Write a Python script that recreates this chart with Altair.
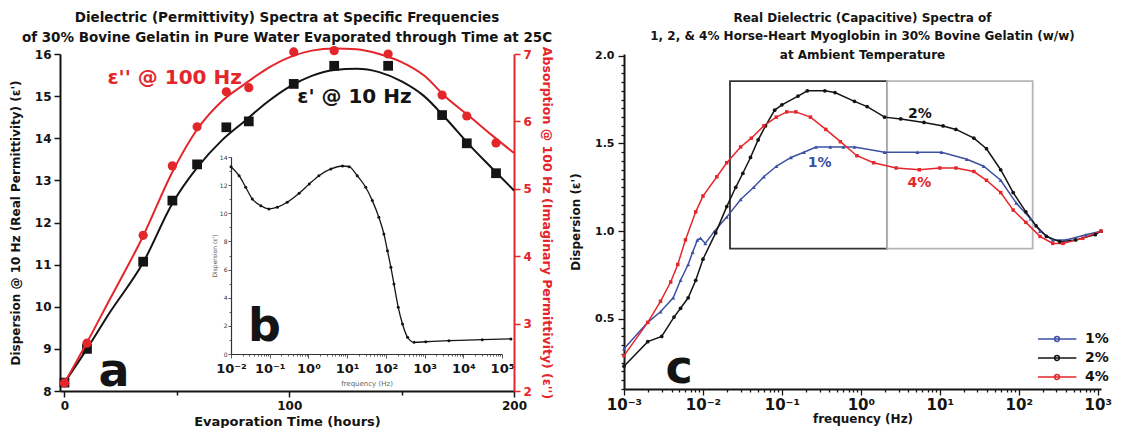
import altair as alt
import pandas as pd

FONT = "DejaVu Sans"
RED = "#e3262b"
BLUE = "#3d50a2"
BLACK = "#141414"

# ---------------- Panel a : values at specific frequencies vs evaporation time ----------------
hours = [0, 10, 35, 48, 59, 72, 82, 102, 120, 144, 168, 179, 192]
eps_real_10hz = [8.2, 9.0, 11.07, 12.52, 13.38, 14.26, 14.4, 15.29, 15.72, 15.72, 14.55, 13.88, 13.17]
eps_imag_100hz = [2.12, 2.71, 4.31, 5.34, 5.92, 6.44, 6.5, 7.03, 7.05, 7.0, 6.39, 6.08, 5.68]

# fitted curves as drawn in the figure
fit_hours = [0, 10, 20, 35, 48, 59, 70, 80, 90, 100, 110, 120, 130, 140, 150, 160, 170, 180, 190, 200]
fit_real = [8.2, 9.0, 9.85, 11.05, 12.45, 13.3, 13.95, 14.4, 14.85, 15.22, 15.48, 15.62, 15.65, 15.57,
            15.35, 15.0, 14.45, 13.85, 13.3, 12.76]
fit_imag = [2.12, 2.72, 3.35, 4.3, 5.25, 5.88, 6.3, 6.55, 6.78, 6.95, 7.05, 7.08, 7.07, 7.0,
            6.88, 6.68, 6.35, 6.08, 5.8, 5.53]

# inset b : dispersion spectrum
inset_freq = [0.01, 0.0162, 0.024, 0.0355, 0.0589, 0.0955, 0.158, 0.282, 0.575, 1.05, 1.86, 3.8, 7.59,
              11.2, 18.2, 30.2, 44.7, 66, 89, 110, 135, 162, 209, 269, 363, 537, 1072, 4266, 30900, 170000]
inset_eps = [13.31, 12.67, 11.85, 11.02, 10.54, 10.31, 10.43, 10.78, 11.42, 12.08, 12.67, 13.15, 13.36,
             13.31, 12.67, 11.85, 10.9, 9.71, 8.53, 7.34, 6.16, 4.97, 3.32, 2.13, 1.19, 0.83, 0.87, 0.95,
             1.02, 1.07]

# ---------------- Panel c : myoglobin spectra ----------------
freq_2pct = [0.001, 0.002, 0.003, 0.0043, 0.0052, 0.0065, 0.0081, 0.010, 0.0145, 0.020, 0.026, 0.032,
             0.040, 0.050, 0.062, 0.081, 0.10, 0.16, 0.21, 0.35, 0.47, 0.83, 1.2, 2.0, 3.2, 6.3, 11, 16,
             27, 39, 59, 85, 123, 166, 224, 331, 525, 933, 1100]
disp_2pct = [0.23, 0.37, 0.40, 0.51, 0.56, 0.62, 0.72, 0.84, 0.99, 1.14, 1.25, 1.33, 1.42, 1.52, 1.60,
             1.69, 1.72, 1.77, 1.80, 1.80, 1.79, 1.74, 1.71, 1.65, 1.64, 1.62, 1.60, 1.58, 1.53, 1.47,
             1.35, 1.22, 1.11, 1.03, 0.97, 0.94, 0.95, 0.98, 1.0]

freq_1pct = [0.001, 0.002, 0.0029, 0.0042, 0.0052, 0.0065, 0.0074, 0.0085, 0.0093, 0.0107, 0.014, 0.020,
             0.030, 0.044, 0.059, 0.085, 0.13, 0.19, 0.27, 0.41, 0.60, 0.83, 2.0, 5.2, 10.5, 22, 36, 59,
             93, 141, 186, 269, 398, 708, 1100]
disp_1pct = [0.33, 0.48, 0.54, 0.62, 0.72, 0.81, 0.88, 0.95, 0.96, 0.93, 1.0, 1.08, 1.18, 1.25, 1.31,
             1.37, 1.42, 1.45, 1.48, 1.48, 1.48, 1.48, 1.45, 1.45, 1.45, 1.41, 1.37, 1.29, 1.16, 1.07,
             1.0, 0.95, 0.95, 0.98, 1.0]

freq_4pct = [0.001, 0.002, 0.0029, 0.0039, 0.0048, 0.006, 0.0081, 0.010, 0.015, 0.020, 0.030, 0.041,
             0.059, 0.085, 0.115, 0.15, 0.23, 0.36, 0.55, 0.89, 1.45, 2.8, 5.5, 10, 16, 27, 39, 59, 85,
             123, 186, 269, 363, 646, 1100]
disp_4pct = [0.29, 0.48, 0.60, 0.71, 0.81, 0.95, 1.11, 1.20, 1.31, 1.39, 1.48, 1.53, 1.60, 1.65, 1.68,
             1.68, 1.65, 1.58, 1.51, 1.43, 1.39, 1.36, 1.35, 1.36, 1.36, 1.34, 1.29, 1.22, 1.12, 1.05,
             0.97, 0.93, 0.93, 0.96, 1.0]

series_names = ["1%", "2%", "4%"]

# zoom boxes drawn on panel c
box_f0 = [0.022, 2.15]
box_f1 = [2.15, 150]
box_v0 = [0.9, 0.9]
box_v1 = [1.855, 1.855]

# --------------------------------------------------------------------------------------------
df_pts = pd.DataFrame({"hours": hours, "real": eps_real_10hz, "imag": eps_imag_100hz})
df_fit = pd.DataFrame({"hours": fit_hours, "real": fit_real, "imag": fit_imag})
df_inset = pd.DataFrame({"freq": inset_freq, "eps": inset_eps})

rows = []
for name, fs, vs in [("1%", freq_1pct, disp_1pct), ("2%", freq_2pct, disp_2pct), ("4%", freq_4pct, disp_4pct)]:
    for f, v in zip(fs, vs):
        rows.append({"freq": f, "value": v, "series": name})
df_c = pd.DataFrame(rows)
df_boxes = pd.DataFrame({"freq": box_f0, "freq2": box_f1, "value": box_v0, "value2": box_v1,
                         "kind": ["dark", "light"]})


def tcond(test, major, minor):
    return {"condition": {"test": test, "value": major}, "value": minor}


DECADE = ("abs(log(datum.value)/LN10 - round(log(datum.value)/LN10)) < 1e-6 ? "
          "'10' + ['⁻³','⁻²','⁻¹','⁰','¹','²','³','⁴','⁵'][round(log(datum.value)/LN10) + 3] : ''")
IS_DEC = "abs(log(datum.value)/LN10 - round(log(datum.value)/LN10)) < 1e-6"

base_axis = dict(grid=False, labelFontWeight="bold", titleFontWeight="bold", labelFont=FONT, titleFont=FONT)

WA, HA = 454, 337
WC, HC = 477, 335

# ---- panel a scales/axes
sc_hours = alt.Scale(domain=[-2, 200], nice=False, zero=False)
ax_hours = alt.Axis(orient="bottom", title="Evaporation Time (hours)", values=[0, 50, 100, 150, 200],
                    labelExpr="datum.value % 100 == 0 ? datum.label : ''", labelFlush=False,
                    tickSize=tcond("datum.value % 100 == 0", 6, 4), domainWidth=2, tickWidth=1.5,
                    domainColor=BLACK, tickColor=BLACK, labelColor=BLACK, titleColor=BLACK,
                    labelFontSize=12, titleFontSize=13, labelPadding=3, titlePadding=4, **base_axis)
sc_real = alt.Scale(domain=[8, 16], nice=False, zero=False)
ax_real = alt.Axis(orient="left", title="Dispersion @ 10 Hz (Real Permittivity) (ε')",
                   values=[8 + 0.5 * i for i in range(17)], format="d",
                   labelExpr="datum.value % 1 == 0 ? datum.label : ''",
                   tickSize=tcond("datum.value % 1 == 0", 6, 3), domainWidth=2, tickWidth=1.5,
                   domainColor=BLACK, tickColor=BLACK, labelColor=BLACK, titleColor=BLACK,
                   labelFontSize=12, titleFontSize=12, labelPadding=3, titlePadding=12, **base_axis)
sc_imag = alt.Scale(domain=[2, 7], nice=False, zero=False)
ax_imag = alt.Axis(orient="right", title="Absorption @ 100 Hz (Imaginary Permittivity) (ε'')",
                   values=[2 + 0.5 * i for i in range(11)], format="d",
                   labelExpr="datum.value % 1 == 0 ? datum.label : ''",
                   tickSize=tcond("datum.value % 1 == 0", 6, 3), domainWidth=2, tickWidth=1.5,
                   domainColor=RED, tickColor=RED, labelColor=RED, titleColor=RED,
                   labelFontSize=12, titleFontSize=12.5, labelPadding=3, titlePadding=8, **base_axis)


def xa():
    return alt.X("hours:Q", scale=sc_hours, axis=ax_hours)


def ya():
    return alt.Y("real:Q", scale=sc_real, axis=ax_real)


black_line = alt.Chart(df_fit).mark_line(color=BLACK, strokeWidth=2, interpolate="monotone").encode(xa(), ya())
black_pts = alt.Chart(df_pts).mark_point(shape="square", filled=True, color=BLACK, size=95, opacity=1).encode(xa(), ya())

lab_black = alt.Chart(pd.DataFrame({"hours": [129], "real": [14.98], "t": ["ε' @ 10 Hz"]})).mark_text(
    fontSize=20, fontWeight="bold", color=BLACK, align="center", baseline="middle").encode(xa(), ya(), text="t:N")
lab_red = alt.Chart(pd.DataFrame({"hours": [49], "real": [15.43], "t": ["ε'' @ 100 Hz"]})).mark_text(
    fontSize=20, fontWeight="bold", color=RED, align="center", baseline="middle").encode(xa(), ya(), text="t:N")
letters_a = alt.Chart(pd.DataFrame({"hours": [22, 89], "real": [8.12, 9.19], "t": ["a", "b"]})).mark_text(
    fontSize=46, fontWeight="bold", color=BLACK, align="center", baseline="alphabetic").encode(xa(), ya(), text="t:N")

black_layer = alt.layer(black_line, black_pts, lab_black, lab_red, letters_a)

x_red = alt.X("hours:Q", scale=sc_hours, axis=None)
y_red = alt.Y("imag:Q", scale=sc_imag, axis=ax_imag)
red_layer = alt.layer(
    alt.Chart(df_fit).mark_line(color=RED, strokeWidth=2, interpolate="monotone").encode(x_red, y_red),
    alt.Chart(df_pts).mark_circle(color=RED, size=85, opacity=1).encode(x_red, y_red),
)

inset_ticks = [k * 10.0 ** e for e in range(-2, 5) for k in range(1, 10)] + [1e5]
sc_in_x = alt.Scale(type="log", domain=[0.01, 1e5], range=[171, 442], nice=False)
ax_in_x = alt.Axis(orient="bottom", offset=-37, values=inset_ticks, labelExpr=DECADE,
                   tickSize=tcond(IS_DEC, 4, 2), domainWidth=1.2, tickWidth=0.8, domainColor="#333",
                   tickColor="#333", labelColor=BLACK, labelFontSize=13, labelPadding=4,
                   title="frequency (Hz)", titleFontSize=7, titleColor="#666", titlePadding=4,
                   grid=False, labelFontWeight="bold", titleFontWeight="normal", labelFont=FONT,
                   titleFont=FONT, labelFlush=False, labelOverlap=False)
sc_in_y = alt.Scale(domain=[0, 14], range=[300, 103], nice=False, zero=False)
ax_in_y = alt.Axis(orient="left", offset=-171, values=[0.5 * i for i in range(29)], format="d",
                   labelExpr="datum.value % 2 == 0 ? datum.label : ''",
                   tickSize=tcond("datum.value % 2 == 0", 3, 2), domainWidth=1.2, tickWidth=0.8,
                   domainColor="#333", tickColor="#333", labelColor="#333", labelFontSize=6,
                   labelPadding=1, title="Dispersion (ε')", titleFontSize=6, titleColor="#555",
                   titlePadding=2, grid=False, labelFontWeight="normal", titleFontWeight="normal",
                   labelFont=FONT, titleFont=FONT)
x_in = alt.X("freq:Q", scale=sc_in_x, axis=ax_in_x)
y_in = alt.Y("eps:Q", scale=sc_in_y, axis=ax_in_y)
inset_layer = alt.layer(
    alt.Chart(df_inset).mark_line(color=BLACK, strokeWidth=1.3, interpolate="monotone").encode(x_in, y_in),
    alt.Chart(df_inset).mark_circle(color=BLACK, size=9, opacity=1).encode(x_in, y_in),
)

panel_a = alt.layer(black_layer, red_layer, inset_layer).resolve_scale(
    x="independent", y="independent").properties(
    width=WA, height=HA,
    title=alt.TitleParams(
        text=["Dielectric (Permittivity) Spectra at Specific Frequencies",
              "of 30% Bovine Gelatin in Pure Water Evaporated through Time at 25C"],
        fontSize=13.5, fontWeight="bold", font=FONT, color=BLACK, anchor="middle", lineHeight=20, offset=0))

# ---- panel c
c_ticks = [k * 10.0 ** e for e in range(-3, 3) for k in range(1, 10)] + [1000]
sc_f = alt.Scale(type="log", domain=[0.001, 1100], nice=False)
ax_f = alt.Axis(orient="bottom", title="frequency (Hz)", values=c_ticks, labelExpr=DECADE,
                tickSize=tcond(IS_DEC, 6, 3), domainWidth=2, tickWidth=1.3, domainColor=BLACK,
                tickColor=BLACK, labelColor=BLACK, titleColor=BLACK, labelFontSize=15, titleFontSize=12,
                labelPadding=2, titlePadding=1, labelFlush=False, labelOverlap=False, **base_axis)
sc_v = alt.Scale(domain=[0.1, 2.01], nice=False, zero=False)
ax_v = alt.Axis(orient="left", title="Dispersion (ε')", values=[round(0.1 + 0.05 * i, 2) for i in range(39)],
                labelExpr="abs(datum.value*2 - round(datum.value*2)) < 1e-6 && datum.value > 0.4 ? format(datum.value, '.1f') : ''",
                tickSize=tcond("abs(datum.value*2 - round(datum.value*2)) < 1e-6", 6, 3), domainWidth=2,
                tickWidth=1.3, domainColor=BLACK, tickColor=BLACK, labelColor=BLACK, titleColor=BLACK,
                labelFontSize=11, titleFontSize=12, labelPadding=4, titlePadding=12, **base_axis)


def xc(field="freq"):
    return alt.X(field + ":Q", scale=sc_f, axis=ax_f)


def yc(field="value"):
    return alt.Y(field + ":Q", scale=sc_v, axis=ax_v)


color_scale = alt.Scale(domain=series_names, range=[BLUE, BLACK, RED])
LEG_PATH = "M-9,0H0.6M-3.65,0a0.6,0.6 0 1,0 -1.2,0a0.6,0.6 0 1,0 1.2,0"

boxes_dark = alt.Chart(df_boxes).transform_filter("datum.kind == 'dark'").mark_rect(
    fillOpacity=0, stroke="#333333", strokeWidth=1.8).encode(xc(), alt.X2("freq2:Q"), yc(), alt.Y2("value2:Q"))
boxes_light = alt.Chart(df_boxes).transform_filter("datum.kind == 'light'").mark_rect(
    fillOpacity=0, stroke="#b5b5b5", strokeWidth=1.8).encode(xc(), alt.X2("freq2:Q"), yc(), alt.Y2("value2:Q"))

lines_c = alt.Chart(df_c).mark_line(strokeWidth=1.5).encode(
    xc(), yc(),
    color=alt.Color("series:N", scale=color_scale,
                    legend=alt.Legend(title=None, orient="none", legendX=1007, legendY=278,
                                      symbolType=LEG_PATH, symbolSize=64, symbolStrokeWidth=1.5,
                                      labelFontSize=14, labelFontWeight="bold", labelColor=BLACK,
                                      labelFont=FONT, rowPadding=5, labelOffset=4)))

pts_1 = alt.Chart(df_c).transform_filter("datum.series == '1%'").mark_point(
    filled=True, size=16, opacity=1, shape="triangle-up", color=BLUE).encode(xc(), yc())
pts_2 = alt.Chart(df_c).transform_filter("datum.series == '2%'").mark_point(
    filled=True, size=14, opacity=1, shape="circle", color=BLACK).encode(xc(), yc())
pts_4 = alt.Chart(df_c).transform_filter("datum.series == '4%'").mark_point(
    filled=True, size=12, opacity=1, shape="square", color=RED).encode(xc(), yc())

df_lab_c = pd.DataFrame({"freq": [0.30, 5.6, 5.5], "value": [1.39, 1.666, 1.277], "t": ["1%", "2%", "4%"]})
lab_c1 = alt.Chart(df_lab_c).transform_filter("datum.t == '1%'").mark_text(
    fontSize=14, fontWeight="bold", color=BLUE).encode(xc(), yc(), text="t:N")
lab_c2 = alt.Chart(df_lab_c).transform_filter("datum.t == '2%'").mark_text(
    fontSize=14, fontWeight="bold", color=BLACK).encode(xc(), yc(), text="t:N")
lab_c4 = alt.Chart(df_lab_c).transform_filter("datum.t == '4%'").mark_text(
    fontSize=14, fontWeight="bold", color=RED).encode(xc(), yc(), text="t:N")
letter_c = alt.Chart(pd.DataFrame({"freq": [0.005], "value": [0.134], "t": ["c"]})).mark_text(
    fontSize=46, fontWeight="bold", color=BLACK, baseline="alphabetic").encode(xc(), yc(), text="t:N")

panel_c = alt.layer(boxes_dark, boxes_light, lines_c, pts_1, pts_2, pts_4,
                    lab_c1, lab_c2, lab_c4, letter_c).properties(
    width=WC, height=HC,
    title=alt.TitleParams(
        text=["Real Dielectric (Capacitive) Spectra of",
              "1, 2, & 4% Horse-Heart Myoglobin in 30% Bovine Gelatin (w/w)",
              "at Ambient Temperature"],
        fontSize=12, fontWeight="bold", font=FONT, color=BLACK, anchor="middle", lineHeight=18.5, offset=-12))

chart = alt.hconcat(panel_a, panel_c, spacing=110, bounds="flush").configure(
    font=FONT, padding={"left": 1, "top": 3, "right": 0, "bottom": 0}
).configure_view(stroke=None)

chart.save("out.html", embed_options={"renderer": "svg", "actions": False})
